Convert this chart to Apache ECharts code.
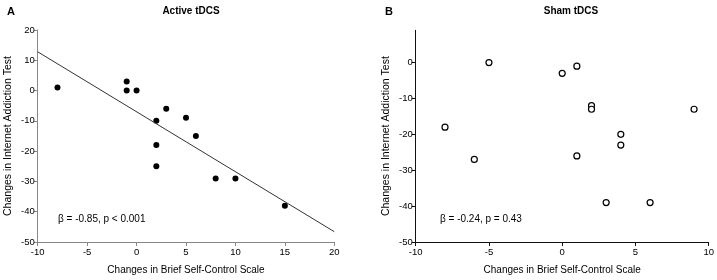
<!DOCTYPE html>
<html><head><meta charset="utf-8">
<script src="https://cdn.jsdelivr.net/npm/echarts@6/dist/echarts.min.js"></script>
<style>html,body{margin:0;padding:0;background:#fff}#c{width:717px;height:280px}</style>
</head><body><div id="c"></div>
<script>
// Panel A: Active tDCS
const activeX = [-8, -1, -1, 0, 2, 3, 5, 6, 2, 2, 8, 10, 15];
const activeY = [1, 3, 0, 0, -10, -6, -9, -15, -18, -25, -29, -29, -38];
const activeLineX = [-10, 20];
const activeLineY = [12.8, -46.6];
// Panel B: Sham tDCS
const shamX = [-5, 0, 1, 2, 2, 9, -8, 4, -6, 1, 4, 3, 6];
const shamY = [0, -3, -1, -12, -13, -13, -18, -20, -27, -26, -23, -39, -39];
// Axis ticks
const xTicksA = [-10, -5, 0, 5, 10, 15, 20];
const yTicksA = [-50, -40, -30, -20, -10, 0, 10, 20];
const xTicksB = [-10, -5, 0, 5, 10];
const yTicksB = [-50, -40, -30, -20, -10, 0];
const titles = ['Active tDCS', 'Sham tDCS'];
const panelLetters = ['A', 'B'];
const xName = 'Changes in Brief Self-Control Scale';
const yName = 'Changes in Internet Addiction Test';
const stats = ['\u03b2 = -0.85, p < 0.001', '\u03b2 = -0.24, p = 0.43'];

const FONT = 'Liberation Sans, Arial, sans-serif';
const chart = echarts.init(document.getElementById('c'), null, {renderer: 'canvas'});

function xAxis(idx, min, max, ticks, col) {
  return {
    type: 'value', gridIndex: idx, min: min, max: max, interval: 5,
    name: xName, nameLocation: 'middle', nameGap: 23,
    nameTextStyle: {fontFamily: FONT, fontSize: 10, color: '#000'},
    axisLine: {show: true, onZero: false, lineStyle: {color: col, width: 1}},
    axisTick: {show: true, length: 4, inside: false, customValues: ticks, lineStyle: {color: col}},
    axisLabel: {customValues: ticks, fontFamily: FONT, fontSize: 9.5, color: '#000', margin: 5},
    splitLine: {show: false}
  };
}
function yAxis(idx, min, max, ticks, col) {
  return {
    type: 'value', gridIndex: idx, min: min, max: max, interval: 10,
    name: yName, nameLocation: 'middle', nameGap: 24, nameRotate: 90,
    nameTextStyle: {fontFamily: FONT, fontSize: 10.5, color: '#000'},
    axisLine: {show: true, onZero: false, lineStyle: {color: col, width: 1}},
    axisTick: {show: true, length: 4, inside: false, customValues: ticks, lineStyle: {color: col}},
    axisLabel: {customValues: ticks, fontFamily: FONT, fontSize: 9.5, color: '#000', margin: 3},
    splitLine: {show: false}
  };
}

const option = {
  animation: false,
  backgroundColor: '#fff',
  title: [
    {text: panelLetters[0], left: 2, top: 1, textStyle: {fontFamily: FONT, fontSize: 11, fontWeight: 'bold', color: '#000'}},
    {text: titles[0], left: 186, top: 1, textAlign: 'center', textStyle: {fontFamily: FONT, fontSize: 10, fontWeight: 'bold', color: '#000'}},
    {text: panelLetters[1], left: 380, top: 1, textStyle: {fontFamily: FONT, fontSize: 11, fontWeight: 'bold', color: '#000'}},
    {text: titles[1], left: 566, top: 1, textAlign: 'center', textStyle: {fontFamily: FONT, fontSize: 10, fontWeight: 'bold', color: '#000'}}
  ],
  grid: [
    {left: 37.7, right: 382.7, top: 30, bottom: 36.3},
    {left: 415.7, right: 6, top: 30.3, bottom: 36.3}
  ],
  xAxis: [xAxis(0, -10, 20, xTicksA, '#888'), xAxis(1, -10, 10, xTicksB, '#111')],
  yAxis: [yAxis(0, -50, 20, yTicksA, '#888'), yAxis(1, -50, 9, yTicksB, '#111')],
  graphic: [
    {type: 'text', left: 58, top: 214, style: {text: stats[0], font: '10px ' + FONT, fill: '#000'}},
    {type: 'text', left: 440, top: 214, style: {text: stats[1], font: '10px ' + FONT, fill: '#000'}}
  ],
  series: [
    {
      type: 'line', xAxisIndex: 0, yAxisIndex: 0, symbol: 'none', silent: true,
      data: activeLineX.map((x, i) => [x, activeLineY[i]]),
      lineStyle: {color: '#333', width: 1}
    },
    {
      type: 'scatter', xAxisIndex: 0, yAxisIndex: 0, symbol: 'circle', symbolSize: 6,
      data: activeX.map((x, i) => [x, activeY[i]]),
      itemStyle: {color: '#000', opacity: 1}
    },
    {
      type: 'scatter', xAxisIndex: 1, yAxisIndex: 1, symbol: 'circle', symbolSize: 6,
      data: shamX.map((x, i) => [x, shamY[i]]),
      itemStyle: {color: '#fff', borderColor: '#000', borderWidth: 1.2, opacity: 1}
    }
  ]
};
chart.setOption(option);
</script></body></html>
